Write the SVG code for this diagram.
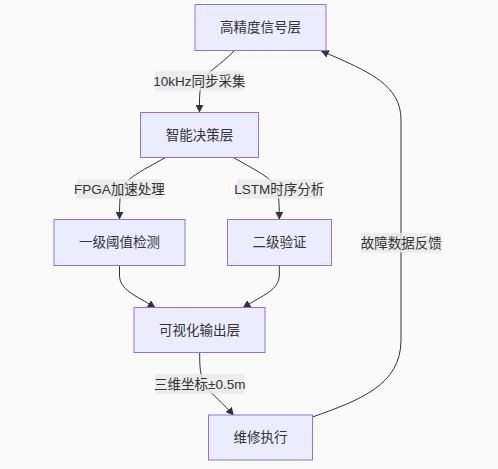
<svg xmlns="http://www.w3.org/2000/svg" width="498" height="469" viewBox="0 0 498 469">
<style>
.node rect{fill:#ECECFF;stroke:#9370DB;stroke-width:1}
.node text,.lbl text{font-family:"Liberation Sans","Noto Sans CJK SC",sans-serif;font-size:13.5px;fill:#333;text-anchor:middle;dominant-baseline:central}
.edge{fill:none;stroke:#333;stroke-width:1}
.lbl rect{fill:#e8e8e8;opacity:0.8}
</style>
<defs>
<marker id="arr" viewBox="0 0 10 10" refX="9" refY="5" markerWidth="8" markerHeight="8" markerUnits="userSpaceOnUse" orient="auto">
<path d="M0,0 L10,5 L0,10 z" fill="#333"/>
</marker>
</defs>
<rect width="498" height="469" fill="#fafafa"/>
<g id="connectors">
<path class="edge" d="M234.5,50.5 C220,66 205,72 201,85 C199,95 199.5,103 199.5,112" marker-end="url(#arr)"/>
<path class="edge" d="M165.5,157.5 C140,172 125,178 121,192 C119.5,200 119.5,208 119.5,219" marker-end="url(#arr)"/>
<path class="edge" d="M233.5,157.5 C258,172 274,178 277.5,192 C279.3,200 279.3,208 279.3,219" marker-end="url(#arr)"/>
<path class="edge" d="M119.5,265.5 L119.5,275 C119.5,290 135,295 155,307.5" marker-end="url(#arr)"/>
<path class="edge" d="M279.3,265.5 L279.3,275 C279.3,290 263,295 243.3,307.5" marker-end="url(#arr)"/>
<path class="edge" d="M199.7,352.5 C199.7,368 200,375 205,385 C212,395 225,405 233.3,415" marker-end="url(#arr)"/>
<path class="edge" d="M312.5,417 C360,400 401,385 401,340 L401,120 C401,85 370,72 321.5,51" marker-end="url(#arr)"/>
</g>
<g id="labels">
<g class="lbl"><rect x="155" y="71.3" width="88.7" height="19.4"/><text x="199.3" y="81">10kHz同步采集</text></g>
<g class="lbl"><rect x="77" y="179.3" width="85" height="19.4"/><text x="119.5" y="189">FPGA加速处理</text></g>
<g class="lbl"><rect x="237.3" y="179.3" width="83.7" height="19.4"/><text x="279.2" y="189">LSTM时序分析</text></g>
<g class="lbl"><rect x="361" y="233" width="80.7" height="19.7"/><text x="401.3" y="243">故障数据反馈</text></g>
<g class="lbl"><rect x="155" y="374" width="89.3" height="19.7"/><text x="199.7" y="384">三维坐标±0.5m</text></g>
</g>
<g id="n1" class="node"><rect x="195" y="4.5" width="131" height="46"/><text x="260.5" y="27.5">高精度信号层</text></g>
<g id="n2" class="node"><rect x="140.5" y="112.5" width="118" height="45"/><text x="199.5" y="135">智能决策层</text></g>
<g id="n3" class="node"><rect x="54" y="219.5" width="131" height="46"/><text x="119.5" y="242.5">一级阈值检测</text></g>
<g id="n4" class="node"><rect x="227.5" y="219.5" width="104" height="46"/><text x="279.5" y="242.5">二级验证</text></g>
<g id="n5" class="node"><rect x="134" y="307.5" width="131" height="45"/><text x="199.5" y="330">可视化输出层</text></g>
<g id="n6" class="node"><rect x="208.5" y="415" width="104" height="45"/><text x="260.5" y="437.5">维修执行</text></g>
</svg>
